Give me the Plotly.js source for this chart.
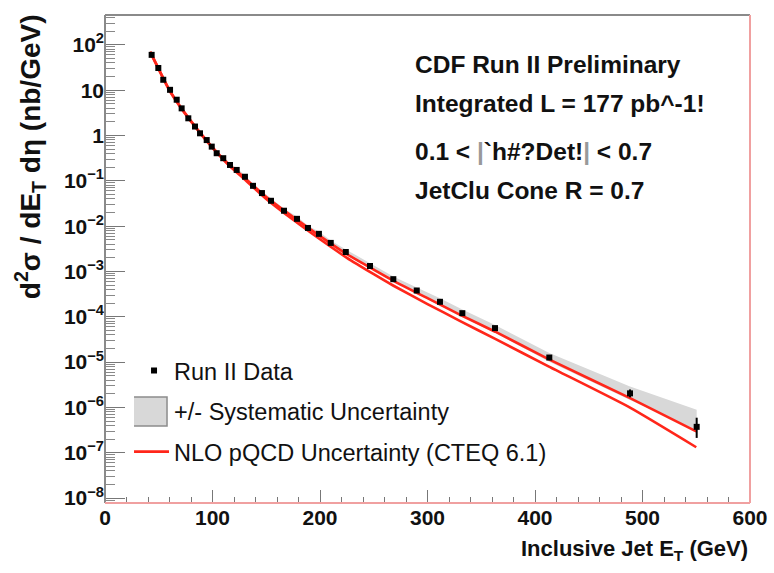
<!DOCTYPE html>
<html>
<head>
<meta charset="utf-8">
<script src="https://cdn.plot.ly/plotly-3.0.1.min.js"></script>
<style>html,body{margin:0;padding:0;background:#fff}#chart{width:774px;height:573px}</style>
</head>
<body>
<div id="chart"></div>
<script>
// Inclusive jet E_T (GeV) of each data point
const jetEt = [43.4, 49.6, 54.2, 60.5, 66.7, 71.3, 77.5, 83.7, 88.4, 94.6, 99.3, 103.9, 110, 116.3, 122.5, 130.2,
  137.7, 146, 154.4, 166.5, 178.6, 188.8, 199, 210, 224, 246.5, 268.2, 290, 311.6, 332.4, 362.8, 413.3, 488.4, 550.4];
// d2sigma/dEt deta (nb/GeV)
const crossSection = [60.3, 30.9, 17.0, 10.2, 6.17, 3.98, 2.40, 1.58, 1.12, 0.794, 0.569, 0.407, 0.316, 0.224, 0.174, 0.123,
  0.0776, 0.0537, 0.0363, 0.0219, 0.0145, 0.00912, 0.00676, 0.00427, 0.00269, 0.00132, 6.76e-4, 3.80e-4, 2.14e-4, 1.20e-4, 5.62e-5, 1.26e-5, 2.04e-6, 3.72e-7];
// statistical errors (nb/GeV)
const statErrUp = [0,0,0,0,0,0,0,0,0,0,0,0,0,0,0,0,0,0,0,0,0,0,0,0,0,0,0,0,0,0,0,1.0e-6, 0.45e-6, 2.2e-7];
const statErrDown = [0,0,0,0,0,0,0,0,0,0,0,0,0,0,0,0,0,0,0,0,0,0,0,0,0,0,0,0,0,0,0,0.9e-6, 0.37e-6, 1.6e-7];
// systematic uncertainty (percent)
const sysUpPct = [8,8,8,8,8,8,8,8,8,8,8,8,8,9,9,10,10,10,11,11,12,12,12,13,14,15,15,17,20,20,17,26,41,140];
const sysDownPct = [8,8,8,8,8,8,8,8,8,8,8,8,8,9,9,10,10,10,11,11,12,12,13,13,13,13,13,15,17,19,21,19,29,15];
// NLO pQCD (CTEQ 6.1) uncertainty edges
const nloEt = [42, 50, 60, 70, 80, 90, 100, 115, 130, 150, 175, 200, 225, 250, 268, 300, 330, 363, 413, 488, 550];
const nloHigh = [70.8, 29.5, 10.0, 4.37, 2.09, 1.05, 0.550, 0.234, 0.115, 0.0437, 0.0158, 6.03e-3, 2.40e-3, 1.10e-3, 6.31e-4, 2.57e-4, 1.12e-4, 4.68e-5, 1.15e-5, 1.62e-6, 2.95e-7];
const nloLow  = [69.2, 28.8, 9.77, 4.27, 2.04, 1.02, 0.537, 0.224, 0.107, 0.0398, 0.0138, 5.13e-3, 2.00e-3, 8.71e-4, 4.90e-4, 1.91e-4, 8.13e-5, 3.24e-5, 7.94e-6, 1.00e-6, 1.32e-7];

const sysHigh = crossSection.map((v, i) => v * (1 + sysUpPct[i] / 100));
const sysLow = crossSection.map((v, i) => v * (1 - sysDownPct[i] / 100));

const FONT = 'Liberation Sans, Arial, Helvetica, sans-serif';
const RED = 'rgb(255,38,26)';

const traces = [
  {x: jetEt, y: sysLow, mode: 'lines', line: {color: 'rgba(0,0,0,0)', width: 0}, showlegend: false, hoverinfo: 'skip'},
  {x: jetEt, y: sysHigh, mode: 'lines', fill: 'tonexty', fillcolor: 'rgb(216,216,216)',
   line: {color: 'rgba(0,0,0,0)', width: 0}, name: '+/- Systematic Uncertainty', legendrank: 2,
   legendgroup: 'b'},
  {x: nloEt, y: nloHigh, mode: 'lines', line: {color: RED, width: 2.6, shape: 'spline', smoothing: 0.5},
   name: 'NLO pQCD Uncertainty (CTEQ 6.1)', legendrank: 3, legendgroup: 'c'},
  {x: nloEt, y: nloLow, mode: 'lines', line: {color: RED, width: 2.6, shape: 'spline', smoothing: 0.5},
   showlegend: false, legendgroup: 'c'},
  {x: jetEt, y: crossSection, mode: 'markers', marker: {symbol: 'square', size: 6, color: '#000'},
   error_y: {type: 'data', symmetric: false, array: statErrUp, arrayminus: statErrDown, color: '#000', thickness: 2, width: 0},
   name: 'Run II Data', legendrank: 1, legendgroup: 'a'}
];

// minor log ticks (style only)
const yMinor = [];
for (let e = -9; e <= 2; e++) for (let m = 2; m <= 9; m++) yMinor.push(m * Math.pow(10, e));

const yTickVals = [1e-8,1e-7,1e-6,1e-5,1e-4,1e-3,1e-2,1e-1,1,10,100];
const yTickText = ['10<sup>−8</sup>','10<sup>−7</sup>','10<sup>−6</sup>','10<sup>−5</sup>','10<sup>−4</sup>','10<sup>−3</sup>','10<sup>−2</sup>','10<sup>−1</sup>','1','10','10<sup>2</sup>'];

const annFont = {family: FONT, size: 24.5, color: '#111', weight: 'bold'};
const layout = {
  width: 774, height: 573,
  margin: {l: 105, r: 24, t: 15, b: 70},
  paper_bgcolor: '#fff', plot_bgcolor: '#fff',
  font: {family: FONT, color: '#111'},
  showlegend: true,
  legend: {x: 0.045, y: 0.316, xanchor: 'left', yanchor: 'top', bgcolor: 'rgba(0,0,0,0)',
    font: {family: FONT, size: 23.5, color: '#111'}, tracegroupgap: 7, traceorder: 'grouped'},
  xaxis: {range: [0, 600], tickvals: [0,100,200,300,400,500,600], ticks: 'inside', ticklen: 13,
    tickcolor: '#777', tickwidth: 1, showline: false, showgrid: false, zeroline: false,
    tickfont: {family: FONT, size: 21, weight: 'bold', color: '#111'},
    minor: {dtick: 20, ticks: 'inside', ticklen: 6, tickcolor: '#777', showgrid: false}},
  yaxis: {type: 'log', range: [-8.11, 2.66], tickvals: yTickVals, ticktext: yTickText,
    ticks: 'inside', ticklen: 20, tickcolor: '#777', tickwidth: 1, showline: false, showgrid: false, zeroline: false,
    tickfont: {family: FONT, size: 21, weight: 'bold', color: '#111'},
    minor: {tickvals: yMinor, ticks: 'inside', ticklen: 10, tickcolor: '#888', showgrid: false}},
  shapes: [
    {type: 'line', xref: 'paper', yref: 'paper', x0: 0, x1: 1, y0: 1, y1: 1, line: {color: '#8a8a8a', width: 2}},
    {type: 'line', xref: 'paper', yref: 'paper', x0: 0, x1: 0, y0: 0, y1: 1, line: {color: '#8a8a8a', width: 2}},
    {type: 'line', xref: 'paper', yref: 'paper', x0: 0, x1: 1, y0: 0, y1: 0, line: {color: '#f0a0a0', width: 2}},
    {type: 'line', xref: 'paper', yref: 'paper', x0: 1, x1: 1, y0: 0, y1: 1, line: {color: '#f0a0a0', width: 2}}
  ],
  annotations: [
    {xref: 'paper', yref: 'paper', x: 0.478, y: 0.898, xanchor: 'left', yanchor: 'middle', showarrow: false,
     text: 'CDF Run II Preliminary', font: annFont},
    {xref: 'paper', yref: 'paper', x: 0.478, y: 0.818, xanchor: 'left', yanchor: 'middle', showarrow: false,
     text: 'Integrated L = 177 pb^-1!', font: annFont},
    {xref: 'paper', yref: 'paper', x: 0.478, y: 0.72, xanchor: 'left', yanchor: 'middle', showarrow: false,
     text: '0.1 &lt; <span style="color:#999">|</span>`h#?Det!<span style="color:#999">|</span> &lt; 0.7', font: annFont},
    {xref: 'paper', yref: 'paper', x: 0.478, y: 0.641, xanchor: 'left', yanchor: 'middle', showarrow: false,
     text: 'JetClu Cone R = 0.7', font: annFont},
    {xref: 'paper', yref: 'paper', x: 1, y: -0.096, xanchor: 'right', yanchor: 'middle', showarrow: false,
     text: 'Inclusive Jet E<sub>T</sub> (GeV)', font: {family: FONT, size: 22, weight: 'bold', color: '#111'}},
    {xref: 'paper', yref: 'paper', x: -0.116, y: 0.709, xanchor: 'center', yanchor: 'middle', showarrow: false, textangle: -90,
     text: 'd<sup>2</sup>σ / dE<sub>T</sub> dη (nb/GeV)', font: {family: FONT, size: 28, weight: 'bold', color: '#111'}}
  ]
};

Plotly.newPlot('chart', traces, layout, {displayModeBar: false, staticPlot: true}).then(() => {
  // enlarge the legend swatch of the systematic band and the NLO legend line
  document.querySelectorAll('.legend .legendfill path').forEach(p => {
    p.setAttribute('d', 'M-2,-14h35v29h-35z');
    p.style.stroke = '#8c8c8c';
    p.style.strokeWidth = '1.5px';
  });
  document.querySelectorAll('.legend .legendlines path').forEach(p => {
    p.setAttribute('d', 'M-4,0h39');
  });
});
</script>
</body>
</html>
